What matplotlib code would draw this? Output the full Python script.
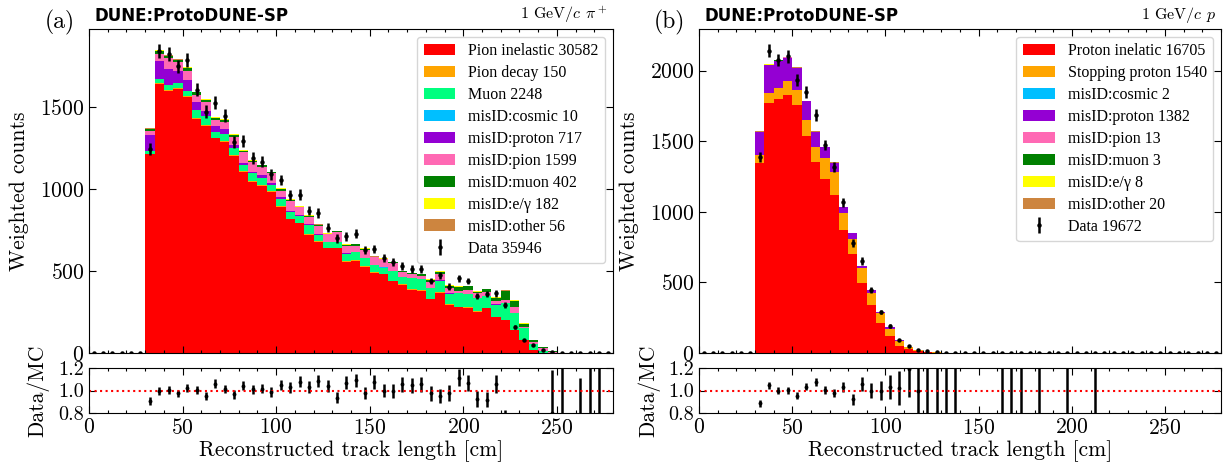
import numpy as np
import matplotlib
matplotlib.use("Agg")
import matplotlib.pyplot as plt
from matplotlib.ticker import MultipleLocator, FormatStrFormatter

plt.rcParams['font.family'] = 'cmr10'
plt.rcParams['mathtext.fontset'] = 'cm'
plt.rcParams['axes.formatter.use_mathtext'] = True

# ---------------- binning ----------------
bin_edges = list(range(0, 285, 5))        # 0..280 cm, 5 cm bins
empty_front = [0] * 6                     # bins 0-30 cm are empty

# ---------------- (a) 1 GeV/c pi+ (values for bins 30..280 cm) ----------------
pi_labels = ["Pion inelastic 30582", "Pion decay 150", "Muon 2248", "misID:cosmic 10",
             "misID:proton 717", "misID:pion 1599", "misID:muon 402",
             "misID:e/\u03b3 182", "misID:other 56"]
pi_colors = ["#ff0000", "#ffa500", "#00ff7f", "#00bfff", "#9400d3",
             "#ff69b4", "#008000", "#ffff00", "#cd853f"]

pi_inel = [1212, 1642, 1600, 1608, 1563, 1427, 1386, 1309, 1289, 1203,
           1104, 1045, 1020, 984, 892, 815, 791, 720, 679, 638,
           638, 557, 563, 526, 490, 480, 437, 415, 384, 378,
           327, 368, 293, 278, 276, 252, 272, 217, 201, 140,
           79, 18, 2, 0, 0, 0, 0, 0, 0, 0]
pi_decay = [4, 4, 5, 5, 4, 4, 4, 4, 4, 4, 4, 4, 4, 4, 4, 4, 4, 4, 4, 3,
            3, 3, 3, 3, 3, 3, 3, 4, 4, 4, 4, 4, 3, 3, 3, 3, 3, 3, 3, 3,
            2, 1, 0, 0, 0, 0, 0, 0, 0, 0]
pi_muon = [16, 25, 29, 32, 31, 51, 55, 37, 42, 45, 38, 51, 45, 36, 43, 43, 42, 55, 37, 34,
           35, 44, 48, 48, 44, 37, 60, 42, 70, 70, 66, 66, 66, 86, 78, 80, 70, 75, 98, 99,
           69, 35, 12, 2, 0.3, 0.2, 2.0, 0.6, 0.5, 0.3]
pi_mis_cosmic = [0, 0, 0, 0, 0, 0, 0, 0, 0, 0, 0, 0, 0, 0, 0, 0, 0, 0, 0, 0,
                 0, 0, 0, 0, 0, 2, 0, 2, 0, 0, 0, 3, 0, 0, 3, 0, 0, 0, 0, 0,
                 0, 0, 0, 0, 0, 0, 0, 0, 0, 0]
pi_mis_proton = [97, 110, 100, 75, 67, 49, 31, 34, 29, 14, 11, 6, 16, 15, 14, 4, 5, 6, 3, 3,
                 2, 3, 4, 3, 2, 3, 2, 2, 1, 1, 2, 3, 1, 1, 1, 1, 1, 1, 1, 1,
                 0, 0, 0, 0, 0, 0, 0, 0, 0, 0]
pi_mis_pion = [27, 40, 65, 55, 51, 42, 56, 37, 46, 53, 71, 57, 51, 57, 37, 61, 46, 46, 50, 45,
               58, 44, 34, 47, 44, 47, 45, 27, 21, 16, 31, 35, 34, 10, 26, 27, 27, 24, 18, 36,
               6, 14, 19, 6, 0, 0, 0, 0, 0, 0]
pi_mis_muon = [8, 19, 10, 8, 22, 16, 12, 11, 12, 10, 5, 9, 7, 5, 9, 5, 3, 6, 6, 5,
               5, 10, 10, 9, 1, 3, 5, 5, 5, 10, 15, 15, 12, 25, 19, 9, 15, 18, 55, 40,
               23, 9, 2, 2, 0, 0, 0, 0, 0, 0]
pi_mis_eg = [4, 4, 4, 4, 4, 4, 4, 4, 4, 4, 4, 4, 4, 4, 4, 4, 4, 4, 4, 4,
             4, 4, 4, 4, 4, 4, 4, 4, 4, 4, 4, 4, 4, 4, 4, 4, 4, 4, 4, 4,
             2, 2, 1, 0, 0, 0, 0, 0, 0, 0]
pi_mis_other = [6, 6, 4, 4, 4, 1, 1, 1, 1, 1, 1, 1, 1, 1, 1, 1, 1, 1, 1, 1,
                1, 1, 1, 1, 1, 1, 1, 1, 1, 1, 1, 1, 1, 1, 1, 1, 1, 1, 1, 1,
                1, 0, 0, 0, 0, 0, 0, 0, 0, 0]
pi_data = [1245, 1840, 1825, 1747, 1788, 1604, 1471, 1526, 1447, 1288,
           1290, 1188, 1166, 1090, 1055, 962, 966, 868, 852, 764,
           698, 712, 728, 628, 633, 578, 554, 530, 512, 511,
           439, 474, 405, 455, 439, 348, 360, 363, 293, 157,
           79, 47, 18, 8, 1, 0, 1, 1, 1, 0]
pi_data_label = "Data 35946"

# ---------------- (b) 1 GeV/c p (values for bins 30..280 cm) ----------------
p_labels = ["Proton inelatic 16705", "Stopping proton 1540", "misID:cosmic 2",
            "misID:proton 1382", "misID:pion 13", "misID:muon 3",
            "misID:e/\u03b3 8", "misID:other 20"]
p_colors = ["#ff0000", "#ffa500", "#00bfff", "#9400d3", "#ff69b4",
            "#008000", "#ffff00", "#cd853f"]

p_inel = [1348, 1768, 1799, 1827, 1756, 1537, 1350, 1232, 1119, 871,
          701, 498, 340, 215, 120, 50, 26, 15, 5, 2,
          1, 0.6, 0.4, 0.3, 0.3, 0.3, 0.5, 0.6, 0.5, 0.3,
          0.6, 0.2, 0.2, 0.5, 0.2, 0.1, 0.6, 0, 0, 0,
          0, 0, 0, 0, 0, 0, 0, 0, 0, 0]
p_stop = [54, 71, 80, 99, 107, 113, 111, 151, 161, 123,
          106, 102, 83, 66, 52, 35, 16, 6, 4, 2,
          1, 0.4, 0, 0, 0, 0, 0, 0, 0, 0, 0, 0, 0, 0, 0, 0, 0, 0, 0, 0,
          0, 0, 0, 0, 0, 0, 0, 0, 0, 0]
p_mis_cosmic = [0, 1, 0.5, 0.5] + [0] * 46
p_mis_proton = [160, 200, 190, 165, 155, 135, 106, 78, 68, 42,
                41, 16, 23, 9, 12, 5] + [0] * 34
p_mis_pion = [1, 2, 2, 2, 3, 1, 1, 0.5, 0.5] + [0] * 41
p_mis_muon = [1, 1, 1] + [0] * 47
p_mis_eg = [2, 3, 1, 1, 1] + [0] * 45
p_mis_other = [4, 3, 3, 3, 3, 1, 1, 1, 1] + [0] * 41
p_data = [1390, 2141, 2075, 2103, 1935, 1850, 1685, 1473, 1319, 1067,
          781, 652, 446, 290, 190, 92, 50, 21, 12, 7,
          3, 2, 0, 0, 0, 0, 1, 1, 1, 0,
          1, 0, 0, 1, 0, 0, 1, 0, 0, 0,
          0, 0, 0, 0, 0, 0, 0, 0, 0, 0]
p_data_label = "Data 19672"

# ---------------- figure ----------------
fig = plt.figure(figsize=(12.25, 4.66), dpi=100)

edges = np.array(bin_edges, float)
centers = 0.5 * (edges[:-1] + edges[1:])

FS = 15.5


def style_axis(ax):
    ax.tick_params(which='both', direction='in', top=True, right=True, labelsize=FS)
    ax.tick_params(which='major', length=5, width=0.8)
    ax.tick_params(which='minor', length=2.5, width=0.8)
    ax.xaxis.set_major_locator(MultipleLocator(50))
    ax.xaxis.set_minor_locator(MultipleLocator(10))
    ax.set_xlim(0, 280)


def panel(rect_main, rect_ratio, comps, colors, labels, data_vals, data_label,
          ymax, tag, beam):
    axm = fig.add_axes(rect_main)
    axr = fig.add_axes(rect_ratio)
    full = [np.array(empty_front + list(c), float) for c in comps]
    data = np.array(empty_front + list(data_vals), float)
    axm.hist([centers] * len(full), bins=edges, weights=full, stacked=True,
             histtype='stepfilled', color=colors, label=labels, linewidth=0)
    axm.errorbar(centers, data, yerr=np.sqrt(data), fmt='o', color='k', ms=2.2,
                 elinewidth=1.8, capsize=0, label=data_label)
    style_axis(axm)
    axm.set_ylim(0, ymax)
    axm.yaxis.set_major_locator(MultipleLocator(500))
    axm.tick_params(labelbottom=False)
    axm.set_ylabel("Weighted counts", fontsize=FS)
    axm.yaxis.set_label_coords(-0.115, 0.5)

    handles, hl = axm.get_legend_handles_labels()
    lookup = dict(zip(hl, handles))
    order = list(labels) + [data_label]
    axm.legend([lookup[k] for k in order], order, loc='upper right',
               prop={'family': 'Liberation Serif', 'size': 11.5},
               labelspacing=0.37, handlelength=2.0, handleheight=0.7,
               borderaxespad=0.5)
    axm.text(0.011, 1.012, "DUNE:ProtoDUNE-SP", transform=axm.transAxes,
             fontsize=12, fontweight='bold', family='DejaVu Sans',
             ha='left', va='bottom')
    axm.text(0.99, 1.012, beam, transform=axm.transAxes, fontsize=11.5,
             ha='right', va='bottom')
    axm.text(-0.027, 1.02, tag, transform=axm.transAxes, fontsize=17,
             ha='right', va='center')

    mc = np.sum(full, axis=0)
    ok = (data > 0) & (mc > 0)
    ratio = data[ok] / mc[ok]
    rerr = ratio * np.sqrt(1.0 / data[ok] + 1.0 / mc[ok])
    axr.errorbar(centers[ok], ratio, yerr=rerr, fmt='o', color='k', ms=1.8,
                 elinewidth=1.8, capsize=0)
    axr.axhline(1.0, color='red', linestyle=':', linewidth=1.5)
    style_axis(axr)
    axr.tick_params(axis='y', labelsize=14.5)
    axr.set_ylim(0.8, 1.2)
    axr.set_yticks([0.8, 1.0, 1.2])
    axr.yaxis.set_major_formatter(FormatStrFormatter('%.1f'))
    axr.set_xlabel("Reconstructed track length [cm]", fontsize=FS, labelpad=2)
    axr.set_ylabel("Data/MC", fontsize=FS)
    axr.yaxis.set_label_coords(-0.075, 0.5)
    return axm, axr


W, H = 1225.0, 466.0
main_b = 1 - 353 / H
main_h = 324 / H
rat_b = 1 - 413 / H
rat_h = 45 / H

panel([89 / W, main_b, 524 / W, main_h], [89 / W, rat_b, 524 / W, rat_h],
      [pi_inel, pi_decay, pi_muon, pi_mis_cosmic, pi_mis_proton, pi_mis_pion,
       pi_mis_muon, pi_mis_eg, pi_mis_other],
      pi_colors, pi_labels, pi_data, pi_data_label, 1975, "(a)",
      r"1 GeV/$c$ $\pi^+$")

panel([699 / W, main_b, 522 / W, main_h], [699 / W, rat_b, 522 / W, rat_h],
      [p_inel, p_stop, p_mis_cosmic, p_mis_proton, p_mis_pion, p_mis_muon,
       p_mis_eg, p_mis_other],
      p_colors, p_labels, p_data, p_data_label, 2295, "(b)",
      r"1 GeV/$c$ $p$")

fig.savefig("out.png", dpi=100)
